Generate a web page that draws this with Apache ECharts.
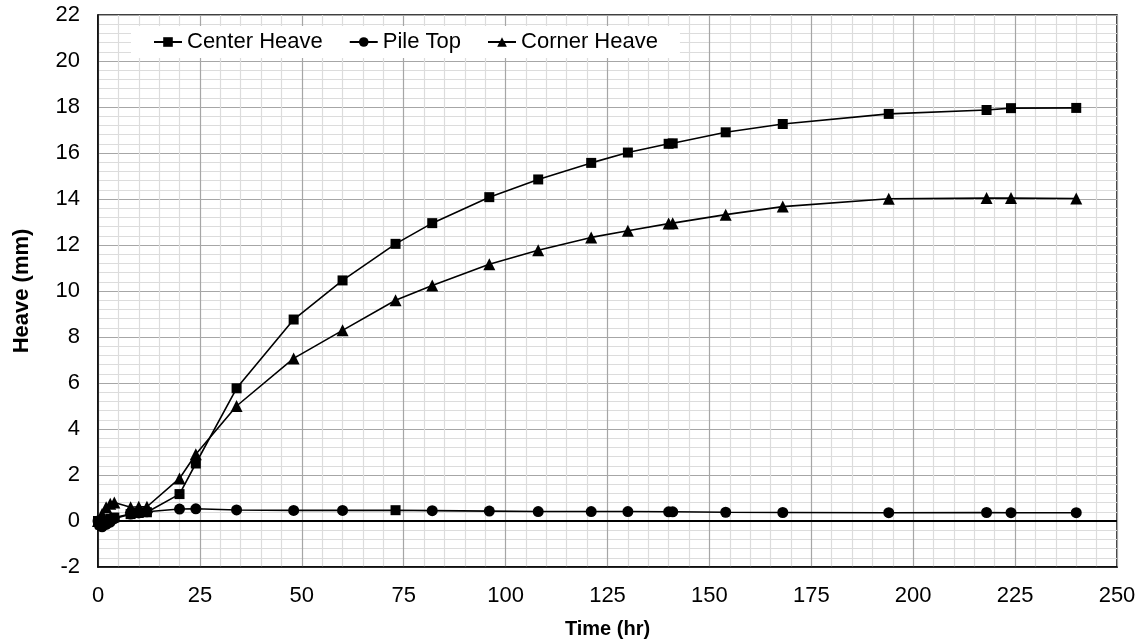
<!DOCTYPE html>
<html>
<head>
<meta charset="utf-8">
<script src="https://cdn.jsdelivr.net/npm/echarts@6/dist/echarts.min.js"></script>
<style>html,body{margin:0;padding:0;background:#fff}#c{width:1143px;height:644px}</style>
</head>
<body>
<div id="c"></div>
<script>
const timeHr = [0, 0.5, 1, 2, 3, 4, 8, 10, 12, 20, 24, 34, 48, 60, 73, 82, 96, 108, 121, 130, 140, 141, 154, 168, 194, 218, 224, 240];
const centerHeave = [0, -0.15, -0.1, 0, 0.1, 0.15, 0.3, 0.35, 0.38, 1.17, 2.5, 5.77, 8.76, 10.46, 12.05, 12.95, 14.08, 14.85, 15.57, 16.02, 16.4, 16.42, 16.9, 17.26, 17.7, 17.87, 17.95, 17.96];
const pileTop = [0, -0.2, -0.25, -0.15, -0.05, 0.1, 0.3, 0.35, 0.4, 0.52, 0.53, 0.48, 0.46, 0.46, 0.47, 0.45, 0.43, 0.41, 0.41, 0.41, 0.4, 0.4, 0.38, 0.37, 0.36, 0.37, 0.36, 0.36];
const cornerHeave = [0, -0.05, 0.3, 0.6, 0.75, 0.8, 0.6, 0.62, 0.62, 1.85, 2.9, 5.0, 7.07, 8.29, 9.6, 10.24, 11.16, 11.77, 12.33, 12.62, 12.93, 12.95, 13.32, 13.67, 14.01, 14.04, 14.04, 14.02];
const seriesNames = ['Center Heave', 'Pile Top', 'Corner Heave'];
const xTicks = {min: 0, max: 250, interval: 25};
const yTicks = {min: -2, max: 22, interval: 2};

const pair = (vals) => timeHr.map((t, i) => [t, vals[i]]);
const font = 'Liberation Sans, Arial, sans-serif';
const chart = echarts.init(document.getElementById('c'), null, {renderer: 'canvas'});
const baseSeries = (name, vals, symbol, size) => ({
  name, type: 'line', data: pair(vals), symbol, symbolSize: size,
  showAllSymbol: true,
  lineStyle: {color: '#000', width: 1.6},
  itemStyle: {color: '#000'},
  emphasis: {disabled: true},
  z: 5
});
const pileSeries = baseSeries(seriesNames[1], pileTop, 'circle', 11);
// one pile-top point is drawn with a square marker in the reference
pileSeries.data = pileSeries.data.map((d, i) => timeHr[i] === 73 ? {value: d, symbol: 'rect', symbolSize: 10} : d);
pileSeries.markLine = {
  silent: true, symbol: 'none', label: {show: false},
  lineStyle: {color: '#000', width: 2, type: 'solid'},
  data: [{yAxis: 0}]
};

chart.setOption({
  animation: false,
  backgroundColor: '#fff',
  textStyle: {fontFamily: font},
  grid: {left: 98, right: 26, top: 15, bottom: 76, show: true, borderColor: '#000', borderWidth: 1.5, backgroundColor: 'transparent'},
  legend: {
    data: seriesNames, left: 131, top: 26, backgroundColor: '#fff',
    padding: [5, 22, 5, 22], itemGap: 26, itemWidth: 28, itemHeight: 12,
    textStyle: {fontSize: 22, color: '#000', fontFamily: font}
  },
  xAxis: {
    type: 'value', min: xTicks.min, max: xTicks.max, interval: xTicks.interval,
    name: 'Time (hr)', nameLocation: 'middle', nameGap: 52,
    nameTextStyle: {fontSize: 20, fontWeight: 'bold', color: '#000'},
    axisLine: {show: true, onZero: false, lineStyle: {color: '#000', width: 1.5}},
    axisTick: {show: false},
    axisLabel: {fontSize: 22, color: '#000', margin: 18},
    splitLine: {show: true, lineStyle: {color: '#a6a6a6', width: 1.2}},
    minorTick: {show: false, splitNumber: 5},
    minorSplitLine: {show: true, lineStyle: {color: '#dcdcdc', width: 1.2}}
  },
  yAxis: {
    type: 'value', min: yTicks.min, max: yTicks.max, interval: yTicks.interval,
    name: 'Heave (mm)', nameLocation: 'middle', nameGap: 65, nameRotate: 90,
    nameTextStyle: {fontSize: 22, fontWeight: 'bold', color: '#000'},
    axisLine: {show: true, onZero: false, lineStyle: {color: '#000', width: 1.5}},
    axisTick: {show: false},
    axisLabel: {fontSize: 22, color: '#000', margin: 18},
    splitLine: {show: true, lineStyle: {color: '#a6a6a6', width: 1.2}},
    minorTick: {show: false, splitNumber: 5},
    minorSplitLine: {show: true, lineStyle: {color: '#dcdcdc', width: 1.2}}
  },
  series: [
    baseSeries(seriesNames[0], centerHeave, 'rect', 10),
    pileSeries,
    baseSeries(seriesNames[2], cornerHeave, 'triangle', 12)
  ]
});
</script>
</body>
</html>
